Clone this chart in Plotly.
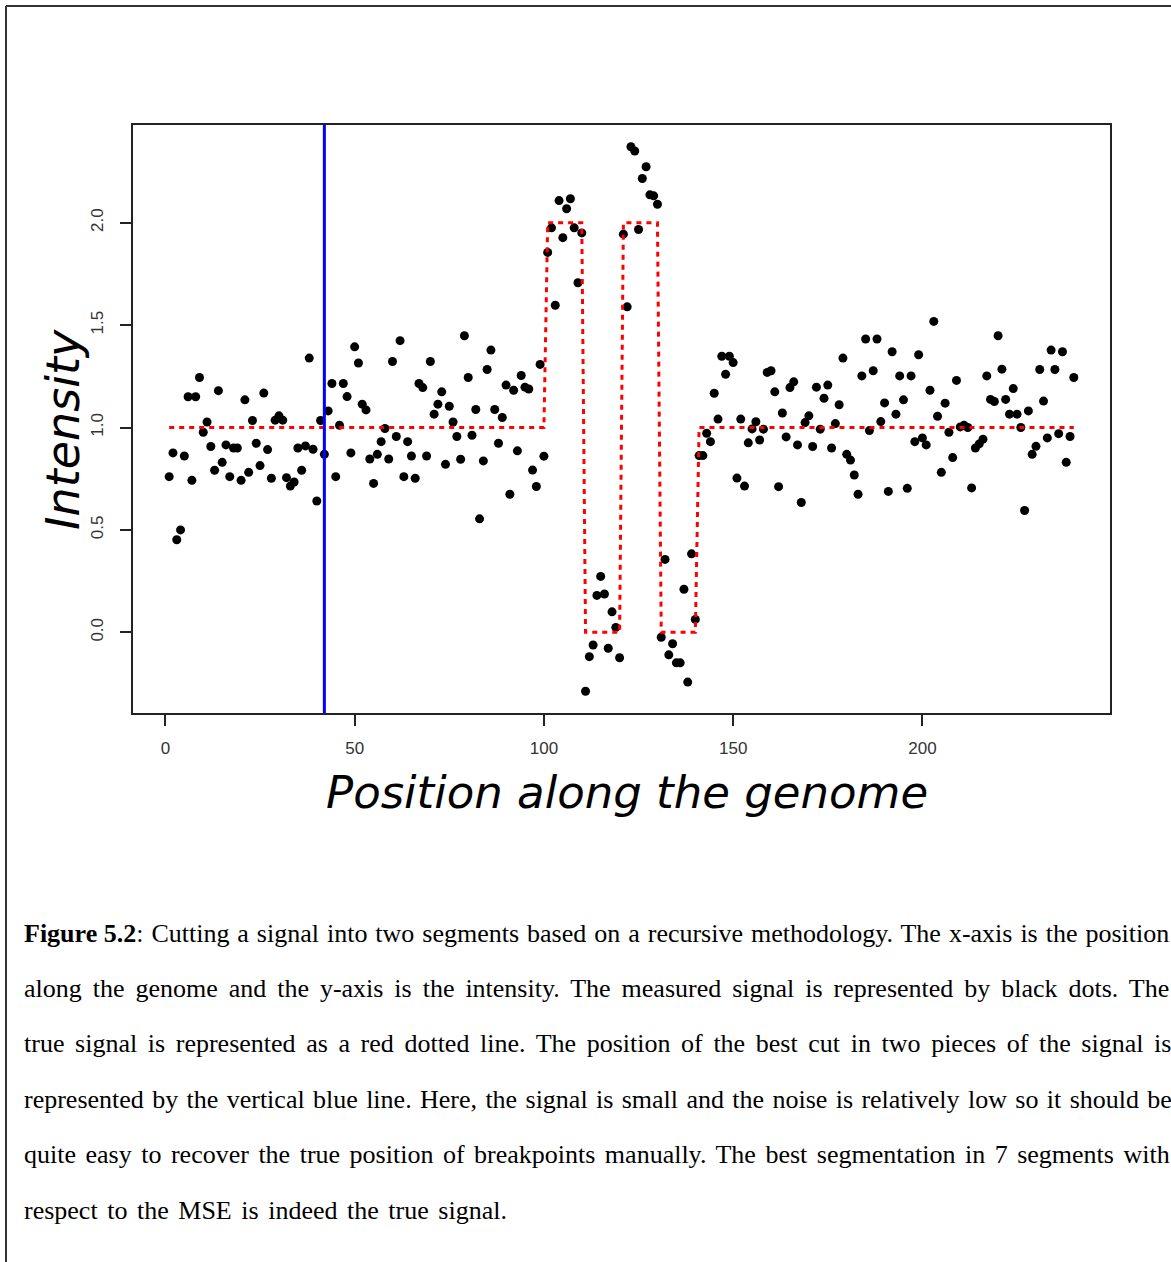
import plotly.graph_objects as go

# ---- data -------------------------------------------------------------
position = list(range(1, 241))

intensity = [
    0.76, 0.876, 0.452, 0.50, 0.861, 1.15, 0.742, 1.15, 1.244, 0.977,
    1.027, 0.907, 0.791, 1.18, 0.83, 0.915, 0.76, 0.90, 0.90, 0.742,
    1.135, 0.781, 1.034, 0.923, 0.814, 1.168, 0.892, 0.752, 1.036, 1.057,
    1.036, 0.755, 0.714, 0.734, 0.90, 0.791, 0.91, 1.339, 0.894, 0.641,
    1.034, 0.869, 1.081, 1.215, 0.76, 1.011, 1.215, 1.151, 0.876, 1.394,
    1.315, 1.114, 1.086, 0.846, 0.727, 0.869, 0.931, 0.995, 0.846, 1.322,
    0.956, 1.424, 0.76, 0.931, 0.861, 0.752, 1.215, 1.195, 0.861, 1.322,
    1.065, 1.114, 1.174, 0.82, 1.104, 1.027, 0.956, 0.845, 1.448, 1.244,
    0.962, 1.088, 0.554, 0.837, 1.283, 1.378, 1.088, 0.923, 1.049, 1.207,
    0.674, 1.182, 0.886, 1.254, 1.197, 1.188, 0.792, 0.712, 1.308, 0.86,
    1.855, 1.975, 1.597, 2.108, 1.927, 2.068, 2.117, 1.975, 1.707, 1.95,
    -0.288, -0.119, -0.062, 0.18, 0.273, 0.187, -0.078, 0.10, 0.024, -0.124,
    1.944, 1.589, 2.371, 2.35, 1.967, 2.216, 2.273, 2.136, 2.131, 2.09,
    -0.024, 0.356, -0.11, -0.056, -0.149, -0.149, 0.21, -0.243, 0.383, 0.063,
    0.863, 0.863, 0.972, 0.931, 1.167, 1.041, 1.348, 1.26, 1.348, 1.317,
    0.753, 1.041, 0.714, 0.925, 0.993, 1.028, 0.939, 0.992, 1.269, 1.277,
    1.174, 0.711, 1.071, 0.954, 1.195, 1.223, 0.915, 0.634, 1.024, 1.057,
    0.907, 1.197, 0.992, 1.143, 1.207, 0.90, 1.019, 1.111, 1.339, 0.869,
    0.841, 0.768, 0.674, 1.252, 1.432, 0.985, 1.277, 1.432, 1.029, 1.12,
    0.688, 1.37, 1.065, 1.252, 1.135, 0.703, 1.252, 0.931, 1.355, 0.949,
    0.915, 1.182, 1.518, 1.055, 0.781, 1.119, 0.977, 0.853, 1.23, 1.003,
    1.011, 1.0, 0.705, 0.90, 0.92, 0.943, 1.252, 1.137, 1.127, 1.448,
    1.285, 1.137, 1.065, 1.19, 1.065, 1.0, 0.595, 1.081, 0.869, 0.908,
    1.283, 1.129, 0.949, 1.378, 1.283, 0.97, 1.37, 0.83, 0.956, 1.244,
]

# true piecewise-constant signal: level of each segment and its last position
segment_levels = [1, 2, 0, 2, 0, 1]
segment_ends = [100, 110, 120, 130, 140, 240]

best_cut = 42

x_ticks = [0, 50, 100, 150, 200]
y_ticks = [0.0, 0.5, 1.0, 1.5, 2.0]
y_tick_labels = ["0.0", "0.5", "1.0", "1.5", "2.0"]

caption_lines = [
    ("Figure 5.2", ": Cutting a signal into two segments based on a recursive methodology. The x-axis is the position"),
    ("", "along the genome and the y-axis is the intensity. The measured signal is represented by black dots. The"),
    ("", "true signal is represented as a red dotted line. The position of the best cut in two pieces of the signal is"),
    ("", "represented by the vertical blue line. Here, the signal is small and the noise is relatively low so it should be"),
    ("", "quite easy to recover the true position of breakpoints manually. The best segmentation in 7 segments with"),
    ("", "respect to the MSE is indeed the true signal."),
]

# ---- derived series ------------------------------------------------------
true_signal = []
start = 1
for level, end in zip(segment_levels, segment_ends):
    true_signal += [level] * (end - start + 1)
    start = end + 1

# ---- page geometry (pixels) ---------------------------------------------
W, H = 1171, 1262
PL, PR, PT, PB = 133, 1110, 125, 713


def fx(px):
    return (px - PL) / (PR - PL)


def fy(py):
    return (PB - py) / (PB - PT)


# Times-compatible advance widths (1/1000 em) used to justify caption lines
TIMES = {
    " ": 250, "a": 444, "b": 500, "c": 444, "d": 500, "e": 444, "f": 333, "g": 500,
    "h": 500, "i": 278, "j": 278, "k": 500, "l": 278, "m": 778, "n": 500, "o": 500,
    "p": 500, "q": 500, "r": 333, "s": 389, "t": 278, "u": 500, "v": 500, "w": 722,
    "x": 500, "y": 500, "z": 444, "A": 722, "B": 667, "C": 667, "D": 722, "E": 611,
    "F": 556, "G": 722, "H": 722, "I": 333, "M": 889, "S": 556, "T": 611,
    ".": 250, ",": 250, ":": 278, "-": 333,
}
TIMES_BOLD = {"F": 611, "i": 278, "g": 500, "u": 556, "r": 444, "e": 444,
              " ": 250, ".": 250}


def text_width(s, table, size):
    return sum(table.get(ch, 500) for ch in s) * size / 1000.0


fig = go.Figure()

fig.add_trace(go.Scatter(
    x=position, y=intensity, mode="markers",
    marker=dict(color="black", size=9, line=dict(width=0)),
    hoverinfo="skip", showlegend=False,
))

fig.add_trace(go.Scatter(
    x=position, y=true_signal, mode="lines",
    line=dict(color="#ff0000", width=3, dash="5px,5px"),
    hoverinfo="skip", showlegend=False,
))

shapes = [
    # best single cut
    dict(type="line", xref="x", yref="y domain", x0=best_cut, x1=best_cut,
         y0=0, y1=1, line=dict(color="#0000ff", width=3), layer="above"),
    # page frame
    dict(type="line", xref="paper", yref="paper", x0=fx(6), x1=fx(6),
         y0=fy(6), y1=fy(H + 2), line=dict(color="#333333", width=2)),
    dict(type="line", xref="paper", yref="paper", x0=fx(6), x1=fx(W + 2),
         y0=fy(6), y1=fy(6), line=dict(color="#333333", width=2)),
]

annotations = [
    dict(text="Position along the genome", xref="paper", yref="paper",
         x=fx(627), y=fy(792), xanchor="center", yanchor="middle", showarrow=False,
         font=dict(family="DejaVu Sans", size=45, color="black", style="italic")),
    dict(text="Intensity", xref="paper", yref="paper", textangle=-90,
         x=fx(63), y=fy(430), xanchor="center", yanchor="middle", showarrow=False,
         font=dict(family="DejaVu Sans", size=46, color="black", style="italic")),
]

cap_size = 26
cap_left, cap_right, last_right = 22, 1170, 505
cap_y0, cap_step = 933, 55.4
for k, (bold, rest) in enumerate(caption_lines):
    natural = text_width(bold, TIMES_BOLD, cap_size) + text_width(rest, TIMES, cap_size)
    n_space = max(rest.count(" "), 1)
    right = cap_right if k < len(caption_lines) - 1 else last_right
    ws = (right - cap_left - natural) / n_space
    html = (f"<b>{bold}</b>" if bold else "") + \
        f"<span style='word-spacing:{ws:.2f}px'>{rest}</span>"
    annotations.append(dict(
        text=html, xref="paper", yref="paper", x=fx(cap_left), y=fy(cap_y0 + k * cap_step),
        xanchor="left", yanchor="middle", showarrow=False, align="left",
        font=dict(family="Liberation Serif", size=cap_size, color="black"),
    ))

axis_common = dict(
    showgrid=False, zeroline=False, showline=True, mirror=True,
    linecolor="#222222", linewidth=1.5, ticks="outside", ticklen=11,
    tickwidth=1.5, tickcolor="#222222",
    tickfont=dict(family="Liberation Sans", size=17, color="#333333"),
)

fig.update_layout(
    width=W, height=H,
    margin=dict(l=PL, r=W - PR, t=PT, b=H - PB, pad=0),
    paper_bgcolor="white", plot_bgcolor="white",
    xaxis=dict(range=[-8.56, 249.56], tickvals=x_ticks, ticklabelstandoff=8,
               **axis_common),
    yaxis=dict(range=[-0.394, 2.477], tickvals=y_ticks, ticktext=y_tick_labels,
               tickangle=-90, ticklabelstandoff=10, **axis_common),
    shapes=shapes, annotations=annotations,
)

fig.write_html("out.html")
